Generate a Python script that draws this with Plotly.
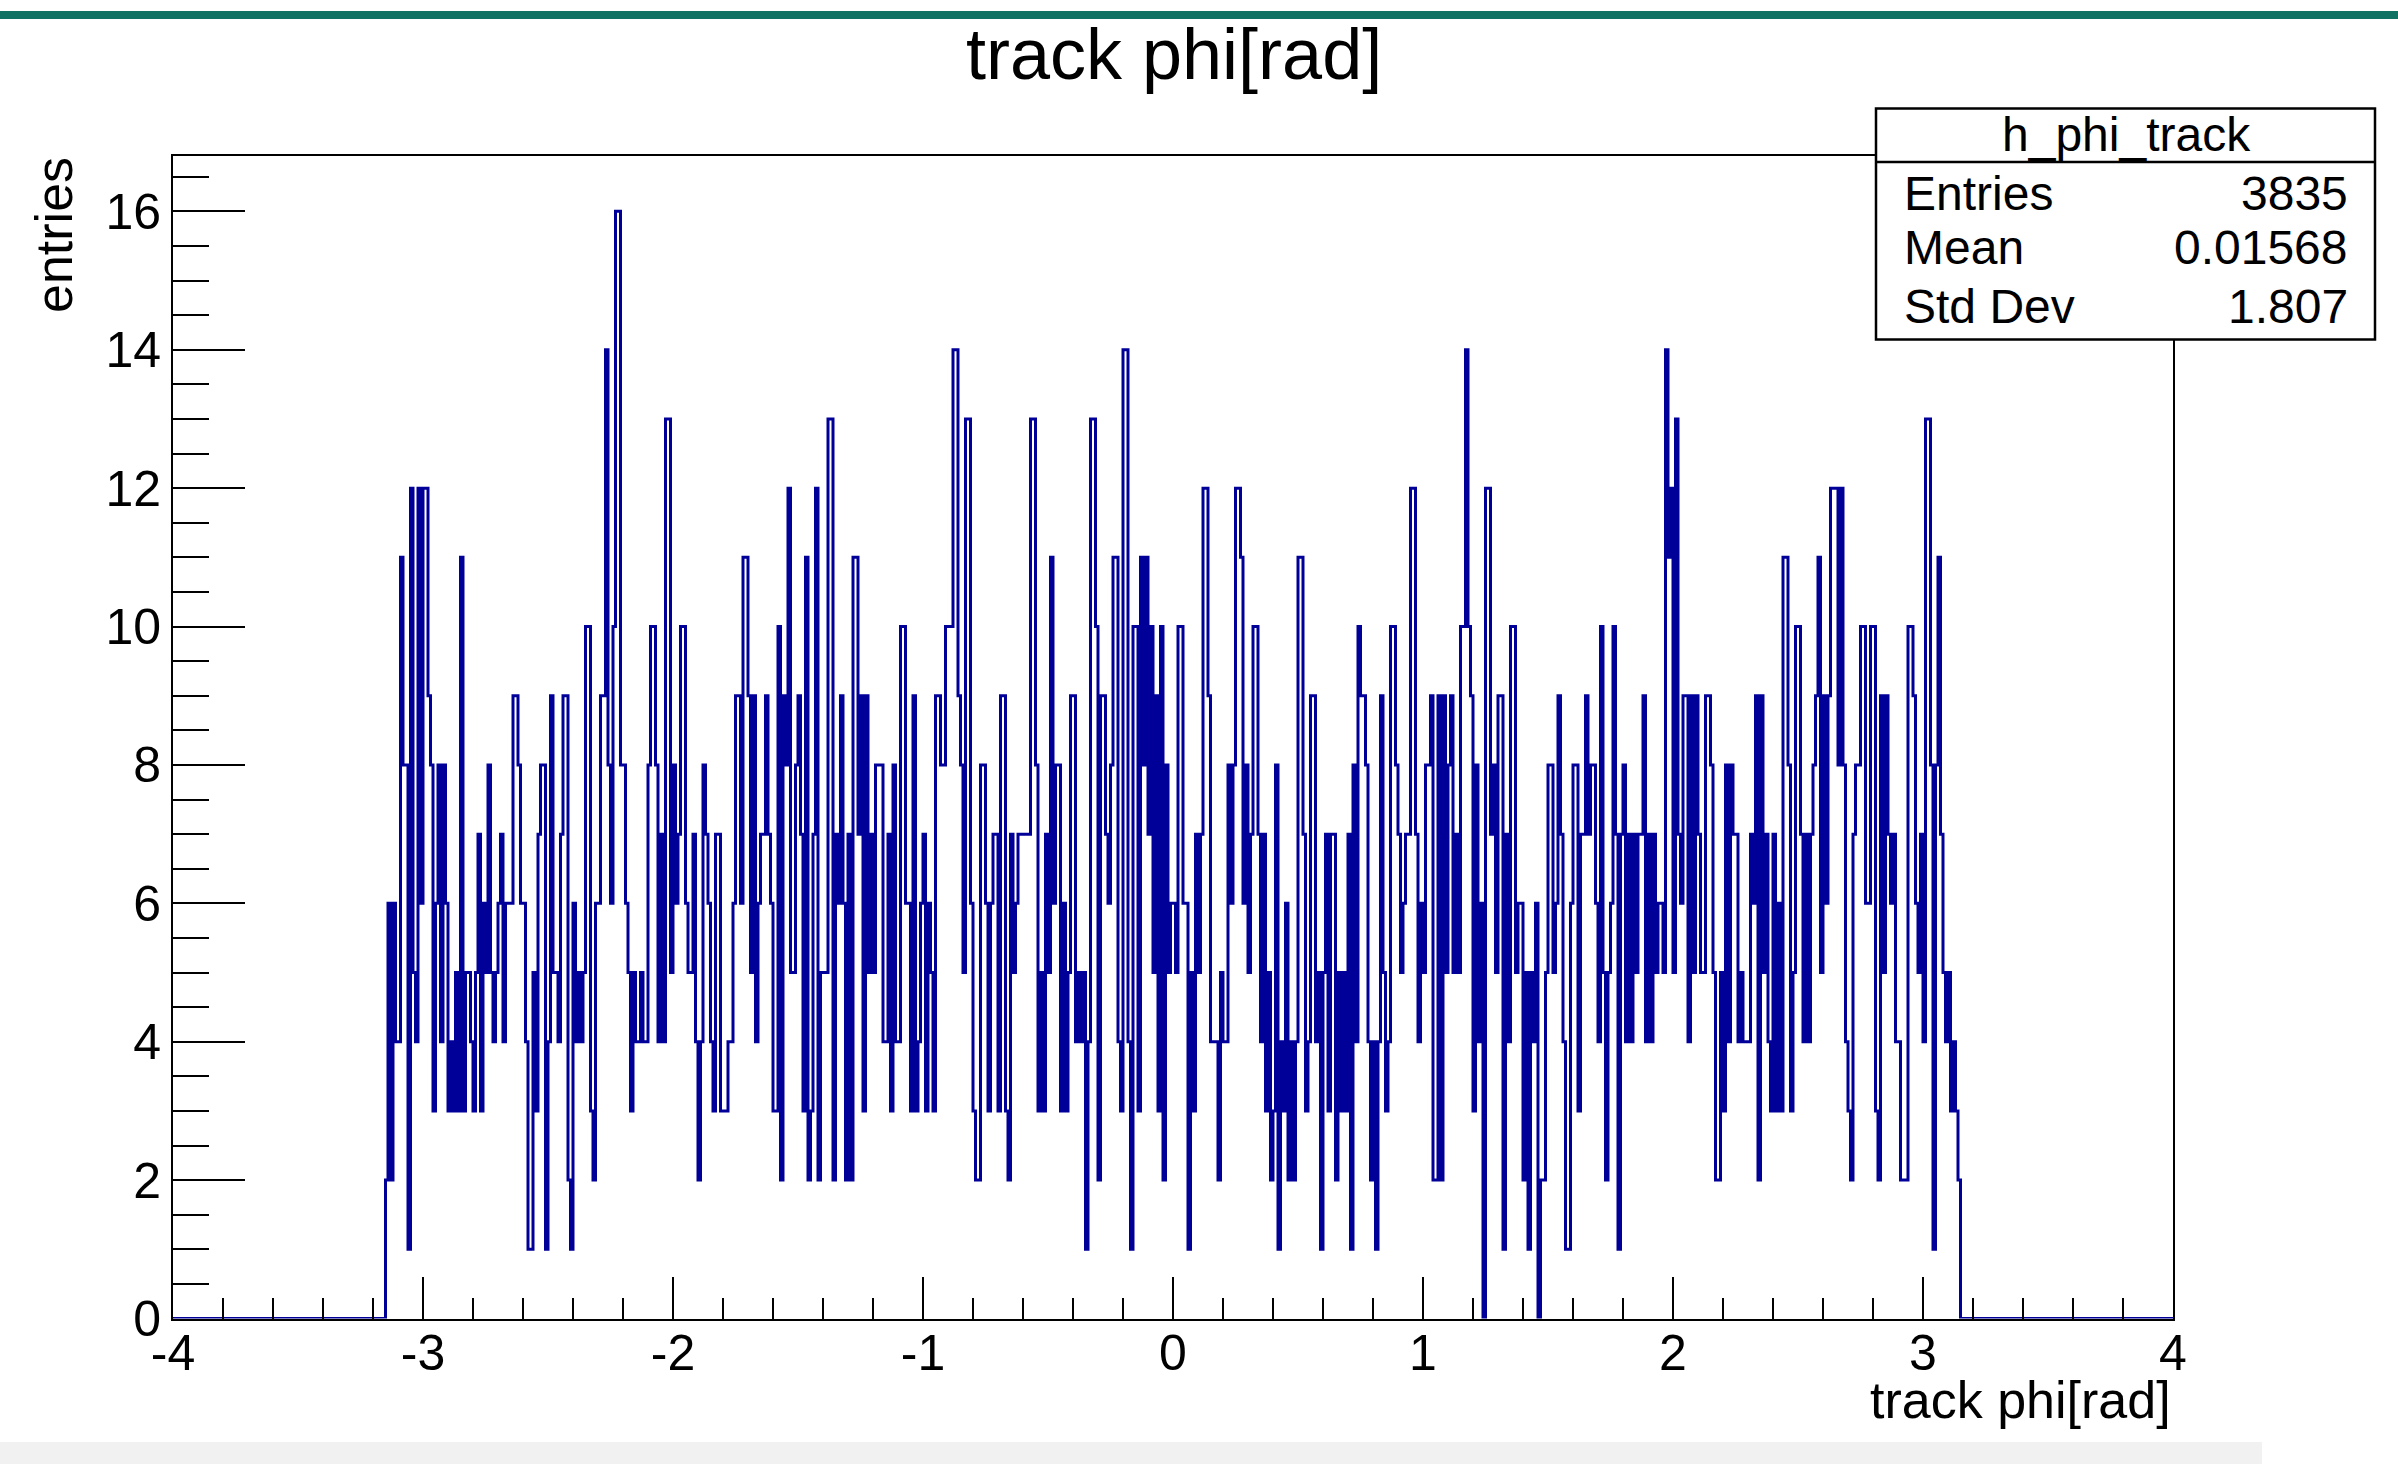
import numpy as np
import plotly.graph_objects as go

# ---------------- data ----------------
hist_name = "h_phi_track"
title_text = "track phi[rad]"
x_title = "track phi[rad]"
y_title = "entries"
stats_labels = ["Entries", "Mean", "Std Dev"]
stats_values = ["3835", "0.01568", "1.807"]

axis_min = -4.0
axis_max = 4.0
n_bins_total = 800          # bin width 0.01
first_filled_bin = 85       # bin starting at -3.15
y_max = 16.8

counts = [
    2, 6, 2, 6, 4, 4, 11, 8, 8, 1,
    12, 5, 4, 12, 6, 12, 12, 9, 8, 3,
    6, 8, 4, 8, 6, 3, 4, 3, 5, 3,
    11, 3, 5, 5, 4, 3, 5, 7, 3, 6,
    5, 8, 5, 4, 5, 6, 7, 4, 6, 6,
    6, 9, 9, 8, 6, 6, 4, 1, 1, 5,
    3, 7, 8, 8, 1, 4, 9, 5, 5, 4,
    7, 9, 9, 2, 1, 6, 4, 5, 4, 5,
    10, 10, 3, 2, 6, 6, 9, 9, 14, 8,
    6, 10, 16, 16, 8, 8, 6, 5, 3, 5,
    4, 4, 5, 4, 4, 8, 10, 10, 8, 4,
    7, 4, 13, 13, 5, 8, 6, 7, 10, 10,
    6, 5, 5, 7, 4, 2, 4, 8, 7, 6,
    4, 3, 7, 7, 3, 3, 3, 4, 4, 6,
    9, 9, 6, 11, 11, 9, 5, 9, 4, 6,
    7, 7, 9, 7, 6, 3, 3, 10, 2, 9,
    8, 12, 5, 5, 8, 9, 7, 3, 11, 2,
    3, 7, 12, 2, 5, 5, 5, 13, 13, 2,
    7, 6, 9, 6, 2, 7, 2, 11, 11, 7,
    9, 3, 9, 5, 7, 5, 8, 8, 8, 4,
    4, 7, 3, 8, 4, 4, 10, 10, 6, 6,
    3, 9, 3, 4, 6, 7, 3, 6, 5, 3,
    9, 9, 8, 8, 10, 10, 10, 14, 14, 9,
    8, 5, 13, 13, 6, 3, 2, 2, 8, 8,
    6, 3, 6, 7, 7, 3, 9, 9, 3, 2,
    7, 5, 6, 7, 7, 7, 7, 7, 13, 13,
    8, 3, 5, 3, 7, 5, 11, 6, 8, 8,
    3, 6, 3, 5, 9, 9, 4, 5, 4, 5,
    1, 4, 13, 13, 10, 2, 9, 9, 7, 6,
    8, 11, 11, 4, 3, 14, 14, 4, 1, 10,
    10, 3, 11, 8, 11, 7, 10, 5, 9, 3,
    10, 2, 8, 5, 6, 6, 5, 10, 10, 6,
    6, 1, 5, 3, 7, 5, 7, 12, 12, 9,
    4, 4, 4, 2, 5, 4, 4, 8, 6, 8,
    12, 12, 11, 6, 8, 5, 7, 10, 10, 7,
    4, 7, 3, 5, 2, 3, 8, 1, 4, 3,
    6, 2, 4, 2, 4, 11, 11, 7, 3, 4,
    9, 9, 4, 5, 1, 5, 7, 3, 7, 7,
    2, 5, 3, 5, 3, 7, 1, 8, 4, 10,
    9, 9, 8, 4, 2, 4, 1, 4, 9, 5,
    3, 4, 10, 10, 8, 7, 5, 6, 7, 7,
    12, 12, 7, 4, 6, 5, 8, 8, 9, 2,
    2, 9, 2, 9, 5, 8, 9, 5, 7, 5,
    10, 10, 14, 10, 9, 3, 8, 4, 6, 0,
    12, 12, 7, 8, 5, 9, 9, 1, 7, 4,
    10, 10, 5, 6, 6, 2, 5, 1, 5, 4,
    6, 0, 2, 2, 5, 8, 8, 5, 6, 9,
    7, 4, 1, 1, 6, 8, 8, 3, 7, 7,
    9, 7, 8, 8, 6, 4, 10, 5, 2, 5,
    6, 10, 7, 1, 7, 8, 4, 7, 4, 7,
    5, 7, 7, 9, 4, 7, 4, 7, 5, 6,
    6, 5, 14, 11, 12, 5, 13, 7, 6, 9,
    9, 4, 9, 5, 9, 7, 5, 5, 9, 9,
    8, 5, 2, 2, 5, 3, 8, 4, 8, 7,
    7, 4, 5, 4, 4, 4, 7, 6, 9, 2,
    9, 5, 7, 4, 3, 7, 3, 6, 3, 11,
    11, 8, 3, 5, 10, 10, 7, 4, 7, 4,
    7, 8, 9, 11, 5, 9, 6, 9, 12, 12,
    12, 8, 12, 8, 4, 3, 2, 7, 8, 8,
    10, 10, 6, 6, 10, 10, 3, 2, 9, 5,
    9, 7, 6, 7, 4, 4, 2, 2, 2, 10,
    10, 9, 6, 5, 7, 4, 13, 13, 8, 1,
    8, 11, 7, 5, 4, 5, 3, 4, 3, 2,
]

x_tick_vals = [-4, -3, -2, -1, 0, 1, 2, 3, 4]
x_tick_text = ["-4", "-3", "-2", "-1", "0", "1", "2", "3", "4"]
y_tick_vals = [0, 2, 4, 6, 8, 10, 12, 14, 16]
y_tick_text = ["0", "2", "4", "6", "8", "10", "12", "14", "16"]

# ---------------- build histogram steps ----------------
full = np.zeros(n_bins_total)
full[first_filled_bin:first_filled_bin + len(counts)] = counts
edges = np.linspace(axis_min, axis_max, n_bins_total + 1)
step_y = np.append(full, full[-1])

W, H = 2398, 1464
def px(x):
    return x / W
def py(y):
    return 1 - y / H

FONT = "Liberation Sans, Arial, Helvetica, sans-serif"
HCOL = "#000099"

fig = go.Figure()
fig.add_trace(go.Scatter(
    x=edges, y=step_y, mode="lines", line=dict(color=HCOL, width=3, shape="hv"),
    showlegend=False, hoverinfo="skip",
))

fig.update_layout(
    width=W, height=H, autosize=False,
    margin=dict(l=0, r=0, t=0, b=0, pad=0),
    paper_bgcolor="white", plot_bgcolor="white",
    showlegend=False,
    xaxis=dict(
        domain=[px(173), px(2173)], range=[axis_min, axis_max],
        automargin=False,
        showgrid=False, zeroline=False,
        showline=True, linecolor="black", linewidth=2, mirror=True,
        ticks="inside", ticklen=42, tickwidth=2, tickcolor="black",
        tickmode="array", tickvals=x_tick_vals, ticktext=x_tick_text,
        tickfont=dict(family=FONT, size=50, color="black"),
        ticklabelstandoff=-11,
        minor=dict(tickmode="linear", tick0=axis_min, dtick=0.2, ticks="inside",
                   ticklen=21, tickwidth=2, tickcolor="black", showgrid=False),
        fixedrange=True,
    ),
    yaxis=dict(
        domain=[py(1318.5), py(156)], range=[0, y_max],
        automargin=False,
        showgrid=False, zeroline=False,
        showline=True, linecolor="black", linewidth=2, mirror=True,
        ticks="inside", ticklen=72, tickwidth=2, tickcolor="black",
        tickmode="array", tickvals=y_tick_vals, ticktext=y_tick_text,
        tickfont=dict(family=FONT, size=50, color="black"),
        minor=dict(tickmode="linear", tick0=0, dtick=0.5, ticks="inside",
                   ticklen=36, tickwidth=2, tickcolor="black", showgrid=False),
        fixedrange=True,
    ),
)

shapes = [
    # top teal band (screenshot border)
    dict(type="rect", xref="paper", yref="paper", x0=0, x1=1, y0=py(19), y1=py(11),
         fillcolor="#0f7263", line=dict(width=0), layer="above"),
    # bottom grey band
    dict(type="rect", xref="paper", yref="paper", x0=0, x1=px(2262), y0=0, y1=py(1442),
         fillcolor="#f1f1f1", line=dict(width=0), layer="below"),
    # stats box
    dict(type="rect", xref="paper", yref="paper", x0=px(1876), x1=px(2375),
         y0=py(339.5), y1=py(108.5), fillcolor="white",
         line=dict(color="black", width=2.5), layer="above"),
    dict(type="line", xref="paper", yref="paper", x0=px(1876), x1=px(2375),
         y0=py(162), y1=py(162), line=dict(color="black", width=2.5), layer="above"),
]
fig.update_layout(shapes=shapes)

ann = [
    dict(text=title_text, x=px(1174), y=py(54), xanchor="center", yanchor="middle",
         font=dict(family=FONT, size=72, color="black")),
    dict(text=x_title, x=px(2173), y=py(1400), xanchor="right", yanchor="middle",
         font=dict(family=FONT, size=52, color="black")),
    dict(text=y_title, x=px(54), y=py(235), xanchor="center", yanchor="middle",
         textangle=-90, font=dict(family=FONT, size=52, color="black")),
    dict(text=hist_name, x=px(2126), y=py(135), xanchor="center", yanchor="middle",
         font=dict(family=FONT, size=48, color="black")),
]
row_y = [193, 248, 306]
for lab, val, yy in zip(stats_labels, stats_values, row_y):
    ann.append(dict(text=lab, x=px(1902), y=py(yy), xanchor="left", yanchor="middle",
                    font=dict(family=FONT, size=48, color="black")))
    ann.append(dict(text=val, x=px(2350), y=py(yy), xanchor="right", yanchor="middle",
                    font=dict(family=FONT, size=48, color="black")))
for a in ann:
    a.update(xref="paper", yref="paper", showarrow=False)
fig.update_layout(annotations=ann)

fig.write_html("out.html", config={"displayModeBar": False, "staticPlot": True},
               post_script="document.body.style.margin='0';document.body.style.overflow='hidden';")
